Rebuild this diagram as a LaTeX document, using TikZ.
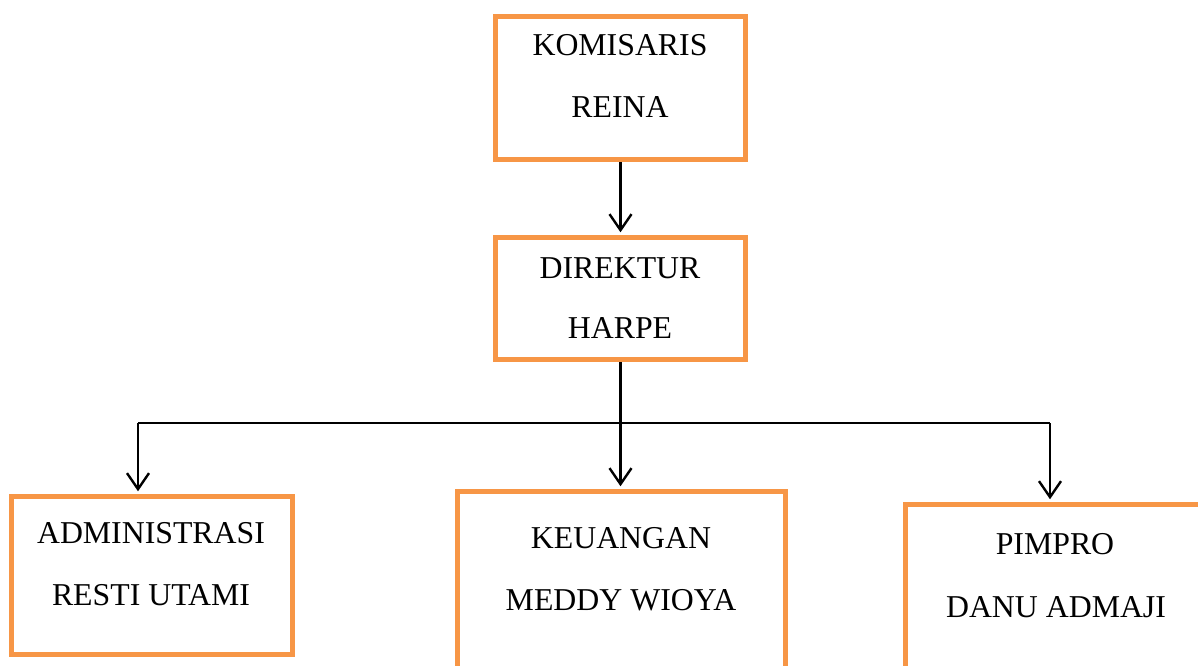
\documentclass[tikz,border=0pt]{standalone}
\usepackage{fontspec}
\setmainfont{Liberation Serif}
\usetikzlibrary{arrows.meta}
\definecolor{boxorange}{HTML}{F79646}
\begin{document}
\begin{tikzpicture}[x=1pt,y=-1pt,
  box/.style={draw=boxorange,line width=5.5pt,rectangle,inner sep=0pt},
  lbl/.style={font=\fontsize{31.8}{38}\selectfont,anchor=base,inner sep=0pt},
  plain/.style={line width=2.4pt},
  conn/.style={line width=2.4pt,shorten >=2.5pt,-{Straight Barb[length=16pt,width=22pt,line width=2.4pt]}}]
\useasboundingbox (0,0) rectangle (1198,665);
% boxes
\node[box,minimum width=250pt,minimum height=143pt] (kom) at (620.5,88) {};
\node[box,minimum width=250pt,minimum height=122pt] (dir) at (620.5,298.5) {};
\node[box,minimum width=281pt,minimum height=158pt] (adm) at (152,575.5) {};
\node[box,minimum width=328pt,minimum height=208.5pt] (keu) at (621.5,595.75) {};
\node[box,minimum width=344.5pt,minimum height=195.5pt] (pim) at (1077.75,602.25) {};
% texts
\node[lbl] (kom1) at (620,55) {KOMISARIS};
\node[lbl] (kom2) at (620,117) {REINA};
\node[lbl] (dir1) at (620,278) {DIREKTUR};
\node[lbl] (dir2) at (620,338) {HARPE};
\node[lbl] (adm1) at (151,543) {ADMINISTRASI};
\node[lbl] (adm2) at (151,605) {RESTI UTAMI};
\node[lbl] (keu1) at (621,548) {KEUANGAN};
\node[lbl] (keu2) at (621,610) {MEDDY WIOYA};
\node[lbl] (pim1) at (1055,554) {PIMPRO};
\node[lbl] (pim2) at (1056,617) {DANU ADMAJI};
% connectors
\coordinate (hl) at (138,423);
\coordinate (hr) at (1050,423);
\draw[conn] (kom.south) -- (dir.north);
\draw[plain] (hl) -- (hr);
\draw[conn] (dir.south) -- (dir.south |- keu.north);
\draw[conn] (hl) -- (hl |- adm.north);
\draw[conn] (hr) -- (hr |- pim.north);
\end{tikzpicture}
\end{document}
